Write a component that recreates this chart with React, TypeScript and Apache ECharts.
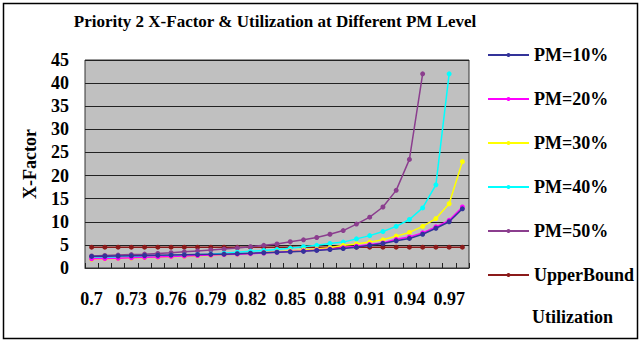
import React, { useEffect, useRef } from "react";
import * as echarts from "echarts";

const categories = [
  "0.7", "0.71", "0.72", "0.73", "0.74", "0.75", "0.76", "0.77", "0.78", "0.79",
  "0.8", "0.81", "0.82", "0.83", "0.84", "0.85", "0.86", "0.87", "0.88", "0.89",
  "0.9", "0.91", "0.92", "0.93", "0.94", "0.95", "0.96", "0.97", "0.98",
];

const pm10 = [2.5, 2.55, 2.6, 2.65, 2.7, 2.75, 2.8, 2.85, 2.9, 2.95, 3.0, 3.1, 3.2, 3.3, 3.4, 3.5, 3.6, 3.8, 4.0, 4.2, 4.5, 4.9, 5.3, 5.9, 6.4, 7.3, 8.6, 10.0, 12.8];
const pm20 = [2.0, 2.05, 2.1, 2.2, 2.3, 2.4, 2.5, 2.6, 2.7, 2.8, 2.9, 3.0, 3.1, 3.25, 3.4, 3.55, 3.7, 3.9, 4.1, 4.4, 4.7, 5.1, 5.4, 6.2, 6.7, 7.6, 8.9, 10.3, 13.2];
const pm30 = [1.9, 2.0, 2.05, 2.15, 2.25, 2.35, 2.45, 2.55, 2.65, 2.75, 2.9, 3.0, 3.15, 3.3, 3.5, 3.7, 3.9, 4.1, 4.4, 4.9, 5.2, 5.6, 6.1, 6.9, 7.7, 9.0, 10.7, 13.9, 23.0];
const pm40 = [2.1, 2.2, 2.3, 2.4, 2.5, 2.6, 2.7, 2.8, 2.9, 3.0, 3.2, 3.4, 3.6, 3.8, 4.0, 4.3, 4.6, 4.9, 5.3, 5.6, 6.3, 7.0, 7.9, 9.0, 10.5, 13.0, 18.0, 42.0, null];
const pm50 = [2.6, 2.7, 2.8, 2.9, 3.0, 3.15, 3.3, 3.5, 3.7, 3.9, 4.1, 4.35, 4.6, 4.9, 5.2, 5.7, 6.1, 6.6, 7.3, 8.1, 9.5, 11.0, 13.2, 16.8, 23.5, 42.0, null, null, null];
const upperBound = [4.5, 4.5, 4.5, 4.5, 4.5, 4.5, 4.5, 4.5, 4.5, 4.5, 4.5, 4.5, 4.5, 4.5, 4.5, 4.5, 4.5, 4.5, 4.5, 4.5, 4.5, 4.5, 4.5, 4.5, 4.5, 4.5, 4.5, 4.5, 4.5];

const seriesNames = ["PM=10%", "PM=20%", "PM=30%", "PM=40%", "PM=50%", "UpperBound"];
const seriesColors = ["#333399", "#ff00ff", "#ffff00", "#00ffff", "#8b3e8e", "#8b1a1a"];
const seriesData = [pm10, pm20, pm30, pm40, pm50, upperBound];

const FONT = "Liberation Serif";

export default function App() {
  const ref = useRef<HTMLDivElement>(null);
  useEffect(() => {
    document.body.style.margin = "0";
    if (!ref.current) return;
    const chart = echarts.init(ref.current, null, { renderer: "svg" });
    chart.setOption({
      animation: false,
      backgroundColor: "#ffffff",
      title: {
        text: "Priority 2 X-Factor & Utilization at Different PM Level",
        left: 270,
        textAlign: "center",
        top: 8,
        textStyle: { fontFamily: FONT, fontWeight: "bold", fontSize: 17, color: "#000" },
      },
      grid: {
        left: 85,
        top: 60,
        width: 384,
        height: 208,
        show: true,
        backgroundColor: "#c0c0c0",
        borderColor: "#333",
        borderWidth: 1,
      },
      legend: {
        orient: "vertical",
        left: 482,
        top: 41,
        itemWidth: 41,
        itemHeight: 5,
        itemGap: 26,
        data: seriesNames,
        textStyle: { fontFamily: FONT, fontWeight: "bold", fontSize: 18, color: "#000" },
      },
      xAxis: {
        type: "category",
        data: categories,
        boundaryGap: true,
        axisLine: { show: true, lineStyle: { color: "#333" } },
        axisTick: { show: true, inside: true, length: 5, interval: 0, lineStyle: { color: "#222" } },
        axisLabel: {
          interval: 2,
          margin: 22,
          fontFamily: FONT,
          fontWeight: "bold",
          fontSize: 18,
          color: "#000",
        },
        splitLine: { show: false },
      },
      yAxis: {
        type: "value",
        min: 0,
        max: 45,
        interval: 5,
        name: "X-Factor",
        nameLocation: "middle",
        nameRotate: 90,
        nameGap: 46,
        nameTextStyle: { fontFamily: FONT, fontWeight: "bold", fontSize: 18, color: "#000" },
        axisLine: { show: false },
        axisTick: { show: false },
        axisLabel: { margin: 16, fontFamily: FONT, fontWeight: "bold", fontSize: 18, color: "#000" },
        splitLine: { show: true, lineStyle: { color: "#222", width: 1 } },
      },
      series: seriesData.map((d, i) => ({
        name: seriesNames[i],
        type: "line",
        data: d,
        symbol: "circle",
        symbolSize: 5,
        showSymbol: true,
        connectNulls: false,
        itemStyle: { color: seriesColors[i] },
        lineStyle: { color: seriesColors[i], width: 1.5 },
        z: i === 5 ? 1 : 2 + (5 - i),
      })),
      graphic: [
        {
          type: "rect",
          shape: { x: 3.5, y: 3.5, width: 634, height: 335 },
          style: { fill: "none", stroke: "#000", lineWidth: 1.5 },
          silent: true,
        },
        {
          type: "text",
          left: 532,
          top: 308,
          style: { text: "Utilization", fontFamily: FONT, fontWeight: "bold", fontSize: 18, fill: "#000" },
        },
      ],
    });
    return () => chart.dispose();
  }, []);
  return <div ref={ref} style={{ width: 642, height: 343 }} />;
}
